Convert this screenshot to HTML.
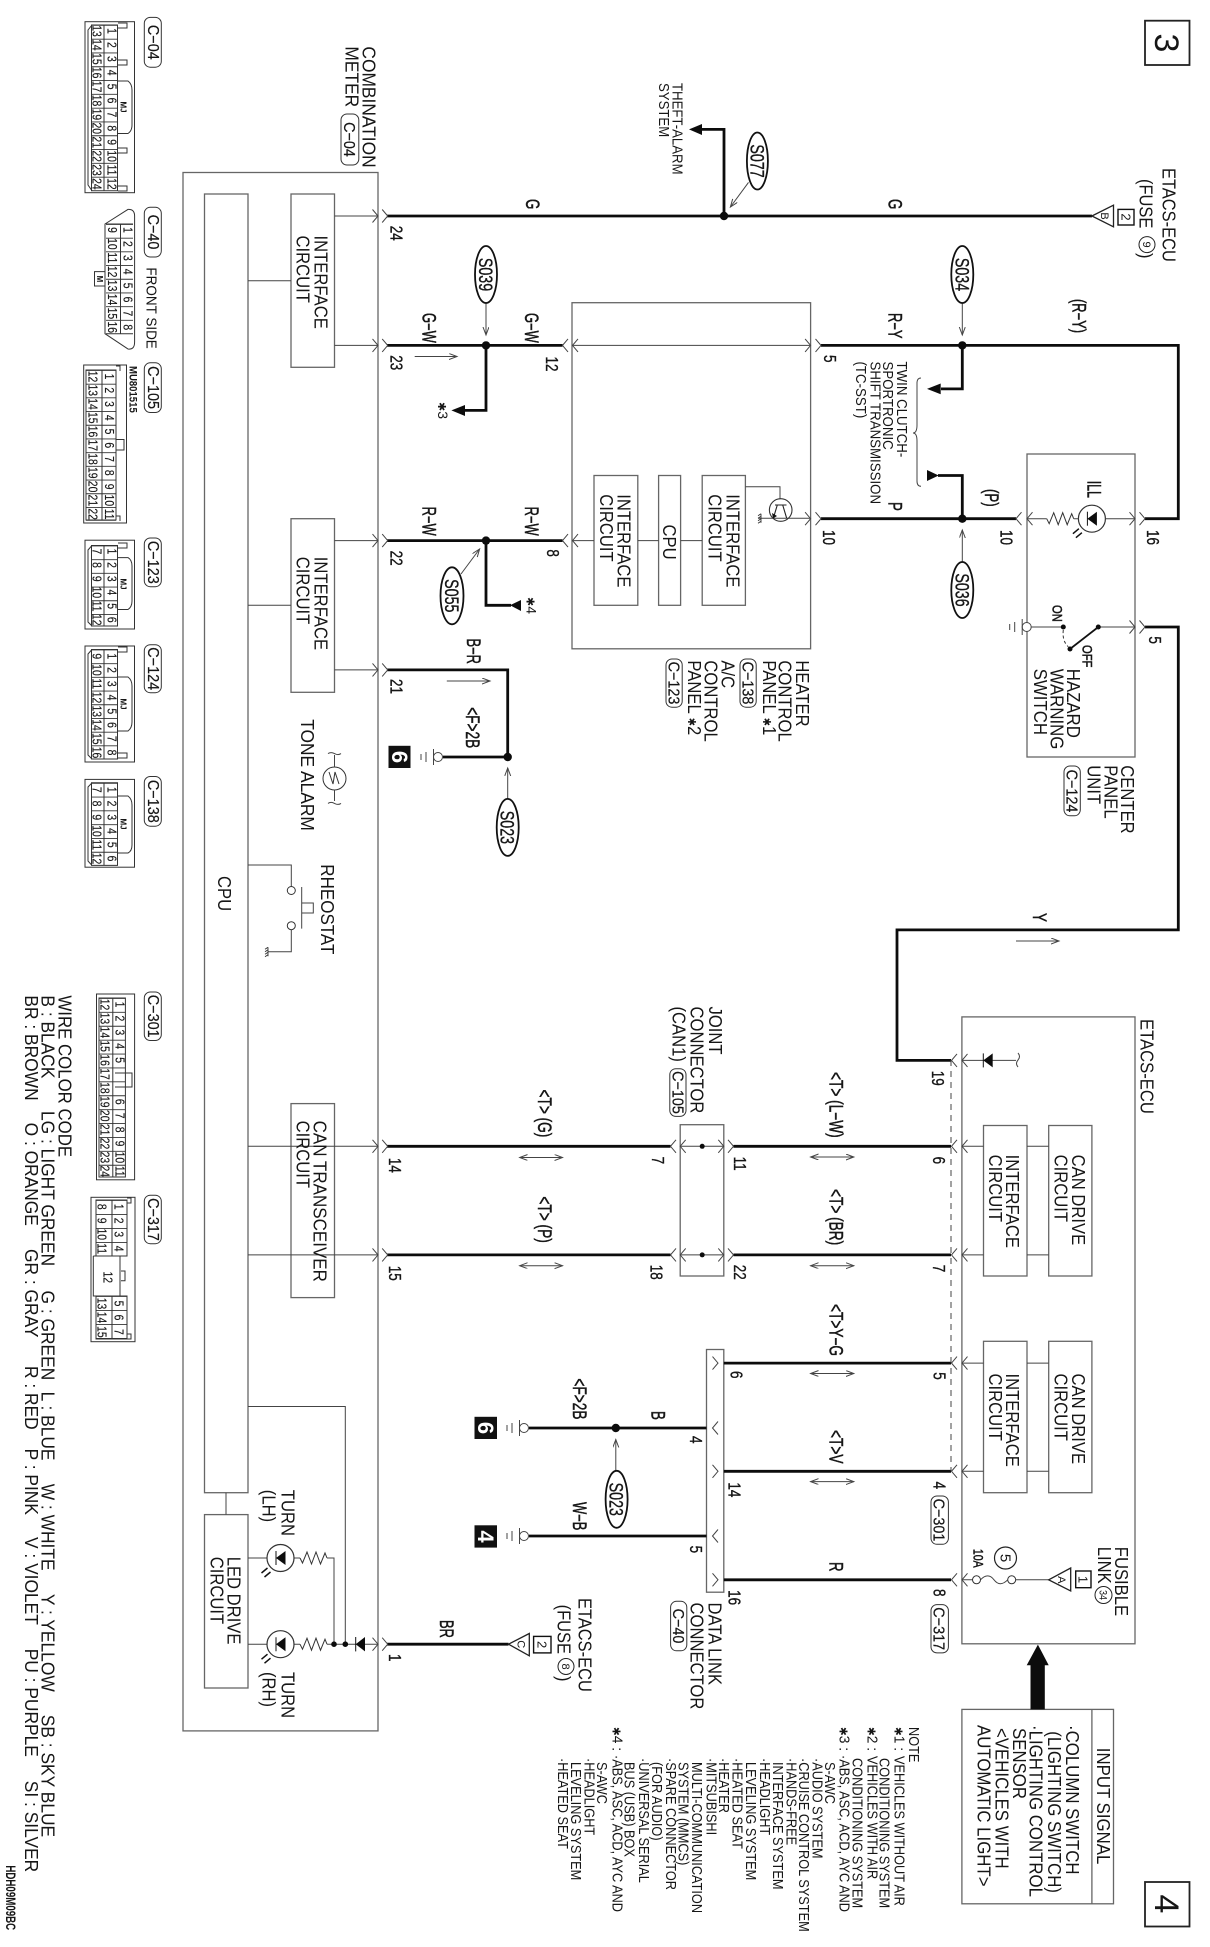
<!DOCTYPE html>
<html><head><meta charset="utf-8"><title>Wiring diagram</title>
<style>
html,body{margin:0;padding:0;background:#fff}
svg{display:block}
text{font-family:"Liberation Sans","DejaVu Sans",sans-serif;fill:#161616}
.L{font-size:18.5px}
.M{font-size:15px}
.N{font-size:14.5px}
.P{font-size:18px;stroke:#161616;stroke-width:.35}
.W{font-size:19px;stroke:#161616;stroke-width:.5}
.S{font-size:19px;stroke:#161616;stroke-width:.35}
.K{font-size:16px;stroke:#161616;stroke-width:.2}
.c{text-anchor:middle}
.n text{font-size:13px;text-anchor:middle;stroke:#161616;stroke-width:.15}
.b{fill:none;stroke:#666;stroke-width:1.3}
.t{fill:none;stroke:#444;stroke-width:1}
.w{fill:none;stroke:#0c0c0c;stroke-width:2.8;stroke-linejoin:miter}
.g{fill:none;stroke:#444;stroke-width:1}
.d{fill:#0c0c0c}
.e{fill:#fff;stroke:#111;stroke-width:1.8}
.p{fill:#fff;stroke:#333;stroke-width:1}
.r{font-size:11px;stroke:none}
</style></head>
<body>
<svg width="1210" height="1947" viewBox="0 0 1210 1947" xmlns="http://www.w3.org/2000/svg">
<defs>
<marker id="a" markerWidth="10" markerHeight="8" refX="8" refY="3" orient="auto-start-reverse" markerUnits="userSpaceOnUse"><path d="M0 0L8 3L0 6" fill="none" stroke="#444" stroke-width="1"/></marker>
<path id="cr" d="M-5.5 -6.5L0 0L-5.5 6.5" fill="none" stroke="#444" stroke-width="1"/>
<path id="cl" d="M5.5 -6.5L0 0L5.5 6.5" fill="none" stroke="#444" stroke-width="1"/>
<g id="led"><circle r="13.5" fill="none" stroke="#333" stroke-width="1.2"/><path d="M-4.5 0L5 -7V7Z" fill="#0c0c0c"/><path d="M-4.5 -7V7" stroke="#111" stroke-width="1"/><path d="M-13 10L-19 15M-10 14L-16 19" stroke="#111" stroke-width="1.5"/></g>
<path id="res" d="M0 0L2.5 5L7 -6L11.5 6L16 -6L20.5 6L25 -5L27 0" fill="none" stroke="#333" stroke-width="1"/>
<g id="gnd"><circle r="4.5" fill="#fff" stroke="#444"/><path d="M-4.5 -8V8M-12 -5V5M-17 -3V3" fill="none" stroke="#444"/></g>
<path id="hat" d="M0 -4.5V4.5M0 -4.5L-3 -2.5M0 -2L-3 0M0 .5L-3 2.5M0 3L-3 5" fill="none" stroke="#333" stroke-width=".9"/>
</defs>

<!-- page tags -->
<rect x="1145" y="20.7" width="44.5" height="44.3" fill="none" stroke="#222" stroke-width="1.8"/>
<text class="c" style="font-size:34px" transform="matrix(0 1 -1 0 1155 43)">3</text>
<rect x="1145" y="1882" width="44.5" height="44.5" fill="none" stroke="#222" stroke-width="1.8"/>
<text class="c" style="font-size:34px" transform="matrix(0 1 -1 0 1155 1904)">4</text>

<!-- boxes -->
<rect class="b" x="183" y="172.5" width="195" height="1558.4"/>
<rect class="b" x="204.5" y="194" width="43.5" height="1298.7"/>
<rect class="b" x="291" y="194" width="43.5" height="173.3"/>
<rect class="b" x="291" y="518.7" width="43.5" height="173.6"/>
<rect class="b" x="291" y="1103.6" width="43.5" height="194"/>
<rect class="b" x="204.5" y="1514.6" width="43.5" height="173.4"/>
<rect class="b" x="572" y="302.7" width="238.6" height="346.1"/>
<rect class="b" x="594" y="475.5" width="43.8" height="129.8"/>
<rect class="b" x="658.6" y="475.5" width="22" height="129.8"/>
<rect class="b" x="702.2" y="475.5" width="43.2" height="129.8"/>
<rect class="b" x="1027" y="454" width="108" height="303"/>
<rect class="b" x="961.9" y="1016.9" width="173.1" height="626.9"/>
<rect class="b" x="1048.7" y="1125.5" width="43.2" height="150.5"/>
<rect class="b" x="983.5" y="1125.5" width="43.5" height="150.5"/>
<rect class="b" x="1048.7" y="1341.3" width="43.2" height="151.4"/>
<rect class="b" x="983.5" y="1341.3" width="43.5" height="151.4"/>
<rect class="b" x="680.2" y="1124.7" width="43.6" height="151.3"/>
<rect class="b" x="706.5" y="1349.5" width="17.3" height="242.7"/>
<rect class="b" x="961.9" y="1709.4" width="151.6" height="194.4"/>
<path class="b" d="M1091.9 1709.4V1903.8"/>

<!-- thin internal lines -->
<path class="t" d="M334.5 216H378M334.5 345.4H378M334.5 540.6H378M334.5 669.9H378M248 280.7H291M248 605.3H291M248 1146.3H378M248 1254.9H378M572 345.4H810.6M572 540.6H594M637.8 540.6H658.6M680.6 540.6H702.2M745.4 486.7H780V499.3M226 1492.7V1514.6M248 1558H267M248 1644.2H267M294 1558H300M327 1558H334V1644.2M294 1644.2H300M327 1644.2H378M345.3 1644.2V1406.5H248"/>
<path class="t" d="M680.2 1146.3H723.8M680.2 1254.9H723.8M962 1146.3H983.5M1027 1146.3H1048.7M962 1254.9H983.5M1027 1254.9H1048.7M962 1363.1H983.5M1027 1363.1H1048.7M962 1471.3H983.5M1027 1471.3H1048.7M962 1060.4H1016"/>
<path d="M1018 1053q3 3.5 0 7t0 7" fill="none" stroke="#444"/>
<path class="t" d="M758 518.3H810.6"/>
<use href="#hat" x="761" y="518.3"/>
<circle cx="780.7" cy="510" r="11.3" fill="none" stroke="#333" stroke-width="1.1"/>
<path d="M775 505H786.5M777.3 505L773.3 518.3M782.7 505L786.7 518.3" fill="none" stroke="#222" stroke-width="1.1"/>
<path d="M773 518.5L772 513L777 516Z" fill="#111"/>

<!-- wires -->
<path class="w" d="M387 216H1092M724 216V129.4H700"/>
<path class="w" d="M387 345.4H562.5M486 345.4V410.4H465"/>
<path class="w" d="M387 540.6H562.5M486 540.6V605.3H511"/>
<path class="w" d="M387 669.9H507.7V757H443"/>
<path class="w" d="M821 345.4H1178.3V518.7H1145M962.3 345.4V388.9H941"/>
<path class="w" d="M821 518.7H1016M962.3 518.7V475.5H938"/>
<path class="w" d="M1145 627H1178.3V929.9H897V1060.4H951"/>
<path class="w" d="M387 1146.3H670.5M733.5 1146.3H951M387 1254.9H670.5M733.5 1254.9H951"/>
<path class="w" d="M723.8 1363.1H951M723.8 1471.3H951M723.8 1579.8H951"/>
<path class="w" d="M706.5 1428H529M706.5 1536H529"/>
<path class="w" d="M387 1644.2H508.5"/>
<path d="M951 1060V1471" fill="none" stroke="#444" stroke-width="1" stroke-dasharray="6 5"/>

<!-- arrowheads -->
<path class="d" d="M689 129.4L702 124V135Z"/>
<path class="d" d="M451.4 410.4L465 405V416Z"/>
<path class="d" d="M510 605.3L521 600V611Z"/>
<path class="d" d="M927 388.9L940.7 383.5V394.3Z"/>
<path class="d" d="M938.7 475.5L927 470V481Z"/>
<path class="d" d="M1037.9 1644.6L1048.7 1665.2H1044.8V1709.4H1030.5V1665.2H1026.7Z"/>

<!-- junction dots -->
<g class="d">
<circle cx="724" cy="216" r="4.2"/><circle cx="486" cy="345.4" r="4.2"/><circle cx="486" cy="540.6" r="4.2"/><circle cx="962.3" cy="345.4" r="4.2"/><circle cx="962.3" cy="518.7" r="4.2"/><circle cx="507.7" cy="757" r="4.2"/><circle cx="615.8" cy="1428" r="4.2"/>
<circle cx="345.3" cy="1644.2" r="2.8"/><circle cx="334" cy="1644.2" r="2.8"/>
<circle cx="702.2" cy="1146.3" r="2.5"/><circle cx="702.2" cy="1254.9" r="2.5"/>
</g>

<!-- chevrons -->
<g>
<use href="#cr" x="378" y="216"/><use href="#cr" x="387.7" y="216"/>
<use href="#cr" x="378" y="345.4"/><use href="#cr" x="387.7" y="345.4"/>
<use href="#cr" x="378" y="540.6"/><use href="#cr" x="387.7" y="540.6"/>
<use href="#cr" x="378" y="669.9"/><use href="#cr" x="387.7" y="669.9"/>
<use href="#cr" x="378" y="1146.3"/><use href="#cr" x="387.7" y="1146.3"/>
<use href="#cr" x="378" y="1254.9"/><use href="#cr" x="387.7" y="1254.9"/>
<use href="#cr" x="378" y="1644.2"/><use href="#cr" x="387.7" y="1644.2"/>
<use href="#cl" x="562.5" y="345.4"/><use href="#cl" x="572.5" y="345.4"/>
<use href="#cl" x="562.5" y="540.6"/><use href="#cl" x="572.5" y="540.6"/>
<use href="#cr" x="810.6" y="345.4"/><use href="#cr" x="821" y="345.4"/>
<use href="#cr" x="810.6" y="518.7"/><use href="#cr" x="821" y="518.7"/>
<use href="#cl" x="1016" y="518.7"/><use href="#cl" x="1027" y="518.7"/>
<use href="#cr" x="1135" y="518.7"/><use href="#cr" x="1145" y="518.7"/>
<use href="#cr" x="1135" y="627"/><use href="#cr" x="1145" y="627"/>
<use href="#cl" x="951.5" y="1060.4"/><use href="#cl" x="962" y="1060.4"/>
<use href="#cl" x="951.5" y="1146.3"/><use href="#cl" x="962" y="1146.3"/>
<use href="#cl" x="951.5" y="1254.9"/><use href="#cl" x="962" y="1254.9"/>
<use href="#cl" x="951.5" y="1363.1"/><use href="#cl" x="962" y="1363.1"/>
<use href="#cl" x="951.5" y="1471.3"/><use href="#cl" x="962" y="1471.3"/>
<use href="#cl" x="951.5" y="1579.8"/><use href="#cl" x="962" y="1579.8"/>
<use href="#cl" x="670.5" y="1146.3"/><use href="#cl" x="680.2" y="1146.3"/>
<use href="#cr" x="723.8" y="1146.3"/><use href="#cr" x="733.5" y="1146.3"/>
<use href="#cl" x="670.5" y="1254.9"/><use href="#cl" x="680.2" y="1254.9"/>
<use href="#cr" x="723.8" y="1254.9"/><use href="#cr" x="733.5" y="1254.9"/>
<use href="#cr" x="718" y="1363.1"/><use href="#cl" x="712.5" y="1428"/><use href="#cr" x="718" y="1471.3"/><use href="#cl" x="712.5" y="1536"/><use href="#cr" x="718" y="1579.8"/>
</g>

<!-- thin arrows -->
<g class="g">
<path d="M748.5 182.4L730.4 207" marker-end="url(#a)"/>
<path d="M486 303.5V335" marker-end="url(#a)"/>
<path d="M962.3 303.5V335" marker-end="url(#a)"/>
<path d="M461 574L479.6 549" marker-end="url(#a)"/>
<path d="M962.3 561.8V530" marker-end="url(#a)"/>
<path d="M507.7 799V768" marker-end="url(#a)"/>
<path d="M615.8 1470.4V1439.5" marker-end="url(#a)"/>
<path d="M414.7 356.5H457" marker-end="url(#a)"/>
<path d="M446.8 681H490" marker-end="url(#a)"/>
<path d="M1016 941H1059" marker-end="url(#a)"/>
<path d="M519.7 1157.5H562.5" marker-start="url(#a)" marker-end="url(#a)"/>
<path d="M519.7 1265.7H562.5" marker-start="url(#a)" marker-end="url(#a)"/>
<path d="M810.6 1157H853.8" marker-start="url(#a)" marker-end="url(#a)"/>
<path d="M810.6 1265.7H853.8" marker-start="url(#a)" marker-end="url(#a)"/>
<path d="M810.6 1373.5H853.8" marker-start="url(#a)" marker-end="url(#a)"/>
<path d="M810.6 1481.6H853.8" marker-start="url(#a)" marker-end="url(#a)"/>
</g>

<!-- brace -->
<path d="M921 378Q917 378 917 383V425Q917 433 913 433Q917 433 917 441V481Q917 486.3 921 486.3" fill="none" stroke="#444"/>

<!-- LEDs, resistors, diodes -->
<use href="#led" x="1091.9" y="518.7"/>
<use href="#res" x="1046.7" y="518.7"/>
<path class="t" d="M1073.7 518.7H1078.4M1105.4 518.7H1135M1027 518.7H1046.7"/>
<use href="#led" x="280.5" y="1558"/>
<use href="#led" x="280.5" y="1644.2"/>
<use href="#res" x="300" y="1558"/>
<use href="#res" x="300" y="1644.2"/>
<path class="d" d="M355.7 1644.2L365 1637V1651.4Z"/><path d="M355.7 1637V1651.4" stroke="#111"/>
<path class="d" d="M983.3 1060.4L992.7 1053.4V1067.4Z"/><path d="M983.3 1053.4V1067.4" stroke="#111"/>

<!-- switch -->
<use href="#gnd" x="1026.7" y="627"/>
<path class="t" d="M1031 627H1063.3M1098.3 627H1135"/>
<circle class="d" cx="1063.3" cy="627" r="2.5"/><circle class="d" cx="1098.3" cy="627" r="2.5"/><circle class="d" cx="1070" cy="649" r="2.5"/>
<path d="M1098.3 627L1070 649" stroke="#111" stroke-width="1.8"/>
<path d="M1063.3 630Q1062 641 1068.3 646.7" fill="none" stroke="#333" stroke-dasharray="3 2.5"/>

<!-- tone alarm -->
<circle cx="334.5" cy="778.5" r="11.5" fill="none" stroke="#333"/>
<path d="M329 772L333 784L335 772L339 784" fill="none" stroke="#333"/>
<path class="t" d="M334.5 755V767M334.5 790V801M328 753.6q3 -2 6.5 0t6.5 0M328 803.4q3 -2 6.5 0t6.5 0"/>

<!-- rheostat -->
<path class="t" d="M248 865H291.3V886.5M291.3 929.7V951.8H268M301.7 887V928.6M301.7 903H313.3V913H301.7"/>
<circle cx="291.3" cy="890.5" r="4" fill="#fff" stroke="#333"/><circle cx="291.3" cy="925.7" r="4" fill="#fff" stroke="#333"/>
<use href="#hat" x="268" y="951.8"/>

<!-- fuse -->
<path class="t" d="M962 1579.8H972.5M980.5 1579.8Q988 1572 994 1579.8T1007.7 1579.8M1015.7 1579.8H1048.7"/>
<circle cx="976.5" cy="1579.8" r="4" fill="#fff" stroke="#333"/><circle cx="1011.7" cy="1579.8" r="4" fill="#fff" stroke="#333"/>
<circle cx="1005.5" cy="1558" r="11" fill="none" stroke="#222" stroke-width="1.2"/>
<text class="c" style="font-size:15px" transform="matrix(0 1 -1 0 1000.5 1558)">5</text>
<circle cx="1103.5" cy="1595" r="8.5" fill="none" stroke="#222"/>
<text class="c" style="font-size:11px" transform="matrix(0 .8 -1 0 1099.7 1595)">34</text>

<!-- triangles & number squares -->
<path d="M1091.9 216L1113.5 205.2V226.8Z" fill="#fff" stroke="#222" stroke-width="1.3"/>
<text class="c" style="font-size:11px" transform="matrix(0 1 -1 0 1101 216)">B</text>
<rect x="1118" y="209.4" width="16" height="15.6" fill="none" stroke="#111" stroke-width="1.4"/>
<text class="c" style="font-size:13px" transform="matrix(0 1 -1 0 1121.5 217)">2</text>
<path d="M508.5 1644.2L529.3 1633.5V1655.8Z" fill="#fff" stroke="#222" stroke-width="1.3"/>
<text class="c" style="font-size:11px" transform="matrix(0 1 -1 0 517.5 1644.2)">C</text>
<rect x="533.6" y="1636.4" width="17.4" height="16.5" fill="none" stroke="#111" stroke-width="1.4"/>
<text class="c" style="font-size:13px" transform="matrix(0 1 -1 0 537.5 1644.6)">2</text>
<path d="M1048.7 1579.8L1070.7 1568V1591Z" fill="#fff" stroke="#222" stroke-width="1.3"/>
<text class="c" style="font-size:11px" transform="matrix(0 1 -1 0 1058 1579.8)">A</text>
<rect x="1075.7" y="1571" width="15.3" height="16.7" fill="none" stroke="#111" stroke-width="1.4"/>
<text class="c" style="font-size:13px" transform="matrix(0 1 -1 0 1078.5 1579.5)">1</text>

<!-- grounds -->
<use href="#gnd" x="438" y="757"/><use href="#gnd" x="524" y="1428"/><use href="#gnd" x="524" y="1536"/>
<rect x="388.5" y="745.8" width="22" height="22.2" fill="#111"/>
<text class="c" style="font-size:22px;font-weight:bold;fill:#fff" transform="matrix(0 1 -1 0 392 757)">6</text>
<rect x="474.5" y="1416.8" width="22.5" height="22.2" fill="#111"/>
<text class="c" style="font-size:22px;font-weight:bold;fill:#fff" transform="matrix(0 1 -1 0 478 1428)">6</text>
<rect x="474.5" y="1525.3" width="22.5" height="22.3" fill="#111"/>
<text class="c" style="font-size:22px;font-weight:bold;fill:#fff" transform="matrix(0 1 -1 0 478 1536.5)">4</text>

<!-- splice ellipses -->
<ellipse class="e" cx="757.4" cy="161" rx="10.5" ry="28.5"/>
<text class="S c" transform="matrix(0 .75 -1 0 750.5 161)">S077</text>
<ellipse class="e" cx="486" cy="274.5" rx="11" ry="28.5"/>
<text class="S c" transform="matrix(0 .75 -1 0 479 274.5)">S039</text>
<ellipse class="e" cx="962.3" cy="274.5" rx="11" ry="28.5"/>
<text class="S c" transform="matrix(0 .75 -1 0 955.3 274.5)">S034</text>
<ellipse class="e" cx="452" cy="595.8" rx="11.5" ry="28.5"/>
<text class="S c" transform="matrix(0 .75 -1 0 445 595.8)">S055</text>
<ellipse class="e" cx="962.3" cy="590" rx="11" ry="28"/>
<text class="S c" transform="matrix(0 .75 -1 0 955.3 590)">S036</text>
<ellipse class="e" cx="507.7" cy="827.4" rx="11" ry="28.5"/>
<text class="S c" transform="matrix(0 .75 -1 0 500.7 827.4)">S023</text>
<ellipse class="e" cx="616.6" cy="1499.3" rx="11" ry="28.5"/>
<text class="S c" transform="matrix(0 .75 -1 0 609.6 1499.3)">S023</text>

<!-- block labels -->
<text class="L" transform="matrix(0 .94 -1 0 362.7 46.4)">COMBINATION</text>
<text class="L" transform="matrix(0 .94 -1 0 345.3 46.4)">METER</text>
<text class="L" transform="matrix(0 .9 -1 0 314.4 235.5)">INTERFACE</text>
<text class="L" transform="matrix(0 .9 -1 0 296.3 235.5)">CIRCUIT</text>
<text class="L" transform="matrix(0 .9 -1 0 314.4 556.8)">INTERFACE</text>
<text class="L" transform="matrix(0 .9 -1 0 296.3 556.8)">CIRCUIT</text>
<text class="L" transform="matrix(0 .92 -1 0 313.3 1120.6)">CAN TRANSCEIVER</text>
<text class="L" transform="matrix(0 .9 -1 0 296.3 1120.6)">CIRCUIT</text>
<text class="L" transform="matrix(0 .9 -1 0 218 876)">CPU</text>
<text class="L" transform="matrix(0 .94 -1 0 301 719.2)">TONE ALARM</text>
<text class="L" transform="matrix(0 .92 -1 0 321 864.3)">RHEOSTAT</text>
<text class="L" transform="matrix(0 .9 -1 0 227.6 1556.7)">LED DRIVE</text>
<text class="L" transform="matrix(0 .9 -1 0 210.3 1556.7)">CIRCUIT</text>
<text class="L" transform="matrix(0 .9 -1 0 281.6 1489.8)">TURN</text>
<text class="L" transform="matrix(0 .9 -1 0 262.3 1489.8)">(LH)</text>
<text class="L" transform="matrix(0 .9 -1 0 281.6 1672)">TURN</text>
<text class="L" transform="matrix(0 .9 -1 0 262.3 1672)">(RH)</text>
<text class="L" transform="matrix(0 .9 -1 0 726.5 494.2)">INTERFACE</text>
<text class="L" transform="matrix(0 .9 -1 0 708.4 494.2)">CIRCUIT</text>
<text class="L" transform="matrix(0 .9 -1 0 662.9 524.5)">CPU</text>
<text class="L" transform="matrix(0 .9 -1 0 617.7 494.2)">INTERFACE</text>
<text class="L" transform="matrix(0 .9 -1 0 600 494.2)">CIRCUIT</text>
<text class="L" transform="matrix(0 .9 -1 0 796 660.4)">HEATER</text>
<text class="L" transform="matrix(0 .9 -1 0 778.6 660.4)">CONTROL</text>
<text class="L" transform="matrix(0 .9 -1 0 763.2 660.4)">PANEL <tspan class="r">✱</tspan>1</text>
<text class="L" transform="matrix(0 .9 -1 0 721.5 660.4)">A/C</text>
<text class="L" transform="matrix(0 .9 -1 0 704.5 660.4)">CONTROL</text>
<text class="L" transform="matrix(0 .9 -1 0 688 660.4)">PANEL <tspan class="r">✱</tspan>2</text>
<text class="L" transform="matrix(0 .9 -1 0 1121.2 765.3)">CENTER</text>
<text class="L" transform="matrix(0 .9 -1 0 1104.6 765.3)">PANEL</text>
<text class="L" transform="matrix(0 .9 -1 0 1087.3 765.3)">UNIT</text>
<text class="L" transform="matrix(0 .91 -1 0 1066.8 668.7)">HAZARD</text>
<text class="L" transform="matrix(0 .91 -1 0 1050.6 668.7)">WARNING</text>
<text class="L" transform="matrix(0 .91 -1 0 1034 668.7)">SWITCH</text>
<text class="L" transform="matrix(0 .9 -1 0 1140.5 1019)">ETACS-ECU</text>
<text class="L" transform="matrix(0 .9 -1 0 1071.8 1154.6)">CAN DRIVE</text>
<text class="L" transform="matrix(0 .9 -1 0 1054.5 1154.6)">CIRCUIT</text>
<text class="L" transform="matrix(0 .9 -1 0 1006.2 1154.6)">INTERFACE</text>
<text class="L" transform="matrix(0 .9 -1 0 988.9 1154.6)">CIRCUIT</text>
<text class="L" transform="matrix(0 .9 -1 0 1071.8 1373.5)">CAN DRIVE</text>
<text class="L" transform="matrix(0 .9 -1 0 1054.5 1373.5)">CIRCUIT</text>
<text class="L" transform="matrix(0 .9 -1 0 1006.2 1373.5)">INTERFACE</text>
<text class="L" transform="matrix(0 .9 -1 0 988.9 1373.5)">CIRCUIT</text>
<text class="L" transform="matrix(0 .9 -1 0 709.2 1006.5)">JOINT</text>
<text class="L" transform="matrix(0 .9 -1 0 690.6 1006.5)">CONNECTOR</text>
<text class="L" transform="matrix(0 .9 -1 0 672.5 1006.5)">(CAN1)</text>
<text class="L" transform="matrix(0 .9 -1 0 708.4 1602.5)">DATA LINK</text>
<text class="L" transform="matrix(0 .9 -1 0 690.6 1602.5)">CONNECTOR</text>
<text class="L" transform="matrix(0 .9 -1 0 1115 1546.8)">FUSIBLE</text>
<text class="L" transform="matrix(0 .9 -1 0 1098 1546.8)">LINK</text>
<text class="L" transform="matrix(0 .89 -1 0 1162.5 168)">ETACS-ECU</text>
<text class="L" transform="matrix(0 .89 -1 0 1139.3 179)">(FUSE</text>
<circle cx="1147" cy="244.6" r="8" fill="none" stroke="#222"/>
<text class="c" style="font-size:11px" transform="matrix(0 1 -1 0 1143 244.6)">9</text>
<text class="L" transform="matrix(0 .89 -1 0 1139.3 253)">)</text>
<text class="L" transform="matrix(0 .89 -1 0 578.7 1598)">ETACS-ECU</text>
<text class="L" transform="matrix(0 .89 -1 0 557.5 1604.6)">(FUSE</text>
<circle cx="566" cy="1666.5" r="8" fill="none" stroke="#222"/>
<text class="c" style="font-size:11px" transform="matrix(0 1 -1 0 562 1666.5)">8</text>
<text class="L" transform="matrix(0 .89 -1 0 557.5 1676)">)</text>
<text class="M" transform="matrix(0 .88 -1 0 672.5 83)">THEFT-ALARM</text>
<text class="M" transform="matrix(0 .88 -1 0 659 83)">SYSTEM</text>
<text class="M" transform="matrix(0 .885 -1 0 897 361.5)">TWIN CLUTCH-</text>
<text class="M" transform="matrix(0 .885 -1 0 882.8 361.5)">SPORTRONIC</text>
<text class="M" transform="matrix(0 .885 -1 0 870.4 361.5)">SHIFT TRANSMISSION</text>
<text class="M" transform="matrix(0 .885 -1 0 855.8 361.5)">(TC-SST)</text>
<text class="M" transform="matrix(0 .9 -1 0 146.6 267.4)">FRONT SIDE</text>
<text class="W" transform="matrix(0 .65 -1 0 1087.3 480.7)">ILL</text>
<text class="W" style="font-size:14px" transform="matrix(0 .8 -1 0 1052.7 605)">ON</text>
<text class="W" style="font-size:14px" transform="matrix(0 .8 -1 0 1082.7 645)">OFF</text>

<!-- wire labels -->
<text class="W" transform="matrix(0 .7 -1 0 526 199)">G</text>
<text class="W" transform="matrix(0 .7 -1 0 888.6 199)">G</text>
<text class="W" transform="matrix(0 .68 -1 0 422.5 313)">G−W</text>
<text class="W" transform="matrix(0 .68 -1 0 525 313)">G−W</text>
<text class="W" transform="matrix(0 .68 -1 0 422.5 506.6)">R−W</text>
<text class="W" transform="matrix(0 .68 -1 0 525 506.6)">R−W</text>
<text class="W" transform="matrix(0 .68 -1 0 467 638.5)">B−R</text>
<text class="W" transform="matrix(0 .72 -1 0 466 707.2)">&lt;F&gt;2B</text>
<text class="W" transform="matrix(0 .68 -1 0 888.6 313)">R−Y</text>
<text class="W" transform="matrix(0 .68 -1 0 1072.6 299)">(R−Y)</text>
<text class="W" transform="matrix(0 .7 -1 0 888.6 502)">P</text>
<text class="W" transform="matrix(0 .7 -1 0 985 489)">(P)</text>
<text class="W" transform="matrix(0 .7 -1 0 1033 913)">Y</text>
<text class="W" transform="matrix(0 .72 -1 0 538 1089.5)">&lt;T&gt; (G)</text>
<text class="W" transform="matrix(0 .72 -1 0 538 1196.4)">&lt;T&gt; (P)</text>
<text class="W" transform="matrix(0 .72 -1 0 829.5 1072)">&lt;T&gt; (L−W)</text>
<text class="W" transform="matrix(0 .72 -1 0 829.5 1189)">&lt;T&gt; (BR)</text>
<text class="W" transform="matrix(0 .72 -1 0 829.5 1304)">&lt;T&gt;Y−G</text>
<text class="W" transform="matrix(0 .72 -1 0 829.5 1430)">&lt;T&gt;V</text>
<text class="W" transform="matrix(0 .7 -1 0 829.5 1562)">R</text>
<text class="W" transform="matrix(0 .7 -1 0 651.3 1411)">B</text>
<text class="W" transform="matrix(0 .72 -1 0 573 1378.4)">&lt;F&gt;2B</text>
<text class="W" transform="matrix(0 .68 -1 0 573 1502)">W−B</text>
<text class="W" transform="matrix(0 .68 -1 0 439.8 1620)">BR</text>
<text class="W" style="font-size:14px" transform="matrix(0 .75 -1 0 973.4 1548.9)">10A</text>

<!-- stars -->
<text style="font-size:14px" transform="matrix(0 1 -1 0 438 402)"><tspan class="r">✱</tspan>3</text>
<text style="font-size:14px" transform="matrix(0 1 -1 0 526.6 597)"><tspan class="r">✱</tspan>4</text>

<!-- pin numbers -->
<g class="P">
<text transform="matrix(0 .75 -1 0 390.4 225.7)">24</text>
<text transform="matrix(0 .75 -1 0 390.4 355.3)">23</text>
<text transform="matrix(0 .75 -1 0 546 356.5)">12</text>
<text transform="matrix(0 .75 -1 0 390.4 550.6)">22</text>
<text transform="matrix(0 .75 -1 0 547 549.4)">8</text>
<text transform="matrix(0 .75 -1 0 390.4 679)">21</text>
<text transform="matrix(0 .75 -1 0 824.1 355)">5</text>
<text transform="matrix(0 .75 -1 0 823 530)">10</text>
<text transform="matrix(0 .75 -1 0 1000.5 530)">10</text>
<text transform="matrix(0 .75 -1 0 1147 530)">16</text>
<text transform="matrix(0 .75 -1 0 1149 636.4)">5</text>
<text transform="matrix(0 .75 -1 0 389 1157.9)">14</text>
<text transform="matrix(0 .75 -1 0 389 1265.7)">15</text>
<text transform="matrix(0 .75 -1 0 389 1654)">1</text>
<text transform="matrix(0 .75 -1 0 652 1156.6)">7</text>
<text transform="matrix(0 .75 -1 0 734.2 1156.6)">11</text>
<text transform="matrix(0 .75 -1 0 933 1156.6)">6</text>
<text transform="matrix(0 .75 -1 0 650.5 1264.8)">18</text>
<text transform="matrix(0 .75 -1 0 734.2 1264.8)">22</text>
<text transform="matrix(0 .75 -1 0 933 1264.8)">7</text>
<text transform="matrix(0 .75 -1 0 932 1070.8)">19</text>
<text transform="matrix(0 .75 -1 0 730.4 1371)">6</text>
<text transform="matrix(0 .75 -1 0 728.5 1482.4)">14</text>
<text transform="matrix(0 .75 -1 0 728.5 1590.1)">16</text>
<text transform="matrix(0 .75 -1 0 933.7 1372.2)">5</text>
<text transform="matrix(0 .75 -1 0 933.7 1481.6)">4</text>
<text transform="matrix(0 .75 -1 0 933.7 1589)">8</text>
<text transform="matrix(0 .75 -1 0 690 1436)">4</text>
<text transform="matrix(0 .75 -1 0 690 1545.6)">5</text>
</g>

<!-- pills -->
<g>
<rect class="p" x="341" y="114" width="17.8" height="51" rx="6"/><text class="K c" transform="matrix(0 .9 -1 0 344 139.5)">C−04</text>
<rect class="p" x="1064" y="766" width="16.3" height="49.8" rx="6"/><text class="K c" transform="matrix(0 .9 -1 0 1066.5 791)">C−124</text>
<rect class="p" x="740" y="659" width="16.2" height="48.2" rx="6"/><text class="K c" transform="matrix(0 .9 -1 0 742.5 683)">C−138</text>
<rect class="p" x="666" y="659" width="16.2" height="48.2" rx="6"/><text class="K c" transform="matrix(0 .9 -1 0 668.5 683)">C−123</text>
<rect class="p" x="669.8" y="1068.7" width="16.2" height="47.7" rx="6"/><text class="K c" transform="matrix(0 .9 -1 0 672.3 1092.5)">C−105</text>
<rect class="p" x="670.6" y="1601.3" width="16.2" height="49.5" rx="6"/><text class="K c" transform="matrix(0 .9 -1 0 673 1626)">C−40</text>
<rect class="p" x="931" y="1496" width="17.4" height="48.3" rx="6"/><text class="K c" transform="matrix(0 .9 -1 0 933.7 1520)">C−301</text>
<rect class="p" x="931" y="1604.6" width="17.4" height="48.3" rx="6"/><text class="K c" transform="matrix(0 .9 -1 0 933.7 1628.7)">C−317</text>
<rect class="p" x="144.3" y="17.4" width="17" height="49.8" rx="6"/><text class="K c" transform="matrix(0 .9 -1 0 148 42.3)">C−04</text>
<rect class="p" x="144.3" y="207.3" width="17" height="49.7" rx="6"/><text class="K c" transform="matrix(0 .9 -1 0 148 232)">C−40</text>
<rect class="p" x="144.3" y="362.8" width="17" height="49.7" rx="6"/><text class="K c" transform="matrix(0 .9 -1 0 148 387.6)">C−105</text>
<rect class="p" x="144.3" y="538" width="17" height="48.7" rx="6"/><text class="K c" transform="matrix(0 .9 -1 0 148 562.3)">C−123</text>
<rect class="p" x="144.3" y="644.7" width="17" height="48" rx="6"/><text class="K c" transform="matrix(0 .9 -1 0 148 668.7)">C−124</text>
<rect class="p" x="144.3" y="776.5" width="17" height="49.7" rx="6"/><text class="K c" transform="matrix(0 .9 -1 0 148 801.3)">C−138</text>
<rect class="p" x="144.3" y="992" width="17" height="48.5" rx="6"/><text class="K c" transform="matrix(0 .9 -1 0 148 1016.2)">C−301</text>
<rect class="p" x="144.3" y="1195.2" width="17" height="48.5" rx="6"/><text class="K c" transform="matrix(0 .9 -1 0 148 1219.5)">C−317</text>
</g>

<!-- connector C-04 -->
<g fill="none" stroke="#333" stroke-width="1">
<rect x="85" y="21.7" width="49.5" height="171"/>
<path d="M92 25L88 30V185L92 190.7M91.5 25H117.5V190.7H91.5ZM104 25V190.7"/>
<path d="M117.5 81H128Q132 84 132 90V125Q132 131 128 133.5H117.5M118 23H127V28H118M118 60H127V65H118M118 148H127V153H118M118 186H127V191H118"/>
</g>
<path d="M110.8 24.9V191" fill="none" stroke="#333" stroke-width="13" stroke-dasharray=".9 12.9"/>
<path d="M97.8 24.9V191" fill="none" stroke="#333" stroke-width="13" stroke-dasharray=".9 12.9"/>
<text style="font-size:8px;font-weight:bold" class="c" transform="matrix(0 1 -1 0 120.5 107)">MJ</text>
<g class="n" transform="matrix(0 .8 -1 0 107.5 31)"><text x="0">1</text><text x="17.4">2</text><text x="34.8">3</text><text x="52.1">4</text><text x="69.5">5</text><text x="86.9">6</text><text x="104.3">7</text><text x="121.6">8</text><text x="139">9</text><text x="156.4">10</text><text x="173.8">11</text><text x="191.1">12</text></g>
<g class="n" transform="matrix(0 .8 -1 0 92.7 31)"><text x="0">13</text><text x="17.4">14</text><text x="34.8">15</text><text x="52.1">16</text><text x="69.5">17</text><text x="86.9">18</text><text x="104.3">19</text><text x="121.6">20</text><text x="139">21</text><text x="156.4">22</text><text x="173.8">23</text><text x="191.1">24</text></g>

<!-- connector C-40 -->
<path d="M105 224L128 209.4Q134.6 209 134.6 216V342Q134.6 350 128 349L105 333.7Z" fill="none" stroke="#333"/>
<path d="M106 224H133M106 333.7H133M120.5 224V333.7" fill="none" stroke="#333"/>
<path d="M127 224V334" fill="none" stroke="#333" stroke-width="12" stroke-dasharray=".9 12.8"/>
<path d="M113 224V334" fill="none" stroke="#333" stroke-width="14" stroke-dasharray=".9 12.8"/>
<path d="M105 271.6H94.5V286H105" fill="none" stroke="#333"/>
<text style="font-size:8px;font-weight:bold" class="c" transform="matrix(0 1 -1 0 97 279)">M</text>
<g class="n" transform="matrix(0 .8 -1 0 123.5 230)"><text x="0">1</text><text x="17.4">2</text><text x="34.8">3</text><text x="52.1">4</text><text x="69.5">5</text><text x="86.9">6</text><text x="104.3">7</text><text x="121.6">8</text></g>
<g class="n" transform="matrix(0 .8 -1 0 108 230)"><text x="0">9</text><text x="17.4">10</text><text x="34.8">11</text><text x="52.1">12</text><text x="69.5">13</text><text x="86.9">14</text><text x="104.3">15</text><text x="121.6">16</text></g>

<!-- connector C-105 -->
<rect x="83.7" y="365" width="42.8" height="158" fill="none" stroke="#333"/>
<path d="M86 370H116V520H86ZM102 370V520M115.7 439.5H124V450H115.7M116 366H120V371M116 516H120V521" fill="none" stroke="#333"/>
<path d="M109 370V521" fill="none" stroke="#333" stroke-width="14" stroke-dasharray=".9 12.8"/>
<path d="M94 370V521" fill="none" stroke="#333" stroke-width="16" stroke-dasharray=".9 12.8"/>
<text style="font-size:11px;font-weight:bold" transform="matrix(0 .87 -1 0 129.5 366)">MU801515</text>
<g class="n" transform="matrix(0 .8 -1 0 105 376.5)"><text x="0">1</text><text x="17.2">2</text><text x="34.4">3</text><text x="51.6">4</text><text x="68.8">5</text><text x="86">6</text><text x="103.2">7</text><text x="120.4">8</text><text x="137.6">9</text><text x="154.8">10</text><text x="172">11</text></g>
<g class="n" transform="matrix(0 .8 -1 0 88.5 376.5)"><text x="0">12</text><text x="17.2">13</text><text x="34.4">14</text><text x="51.6">15</text><text x="68.8">16</text><text x="86">17</text><text x="103.2">18</text><text x="120.4">19</text><text x="137.6">20</text><text x="154.8">21</text><text x="172">22</text></g>

<!-- connector C-123 -->
<rect x="85" y="540.2" width="49.5" height="88.8" fill="none" stroke="#333"/>
<path d="M91.5 545.5H117.5V626H91.5ZM104 545.5V626M92 545.5L88 550V622L92 626M117.5 557.6H128Q132 560 132 566V601Q132 607 128 609.5H117.5M118 543H127V548H118" fill="none" stroke="#333"/>
<path d="M110.8 545.5V626" fill="none" stroke="#333" stroke-width="13" stroke-dasharray=".9 12.8"/>
<path d="M97.8 545.5V626" fill="none" stroke="#333" stroke-width="13" stroke-dasharray=".9 12.8"/>
<text style="font-size:8px;font-weight:bold" class="c" transform="matrix(0 1 -1 0 120.5 584)">MJ</text>
<g class="n" transform="matrix(0 .8 -1 0 107.5 551.4)"><text x="0">1</text><text x="17.1">2</text><text x="34.2">3</text><text x="51.3">4</text><text x="68.4">5</text><text x="85.5">6</text></g>
<g class="n" transform="matrix(0 .8 -1 0 92.7 551.4)"><text x="0">7</text><text x="17.1">8</text><text x="34.2">9</text><text x="51.3">10</text><text x="68.4">11</text><text x="85.5">12</text></g>

<!-- connector C-124 -->
<rect x="85" y="646" width="49.5" height="116" fill="none" stroke="#333"/>
<path d="M91.5 649.5H117.5V759H91.5ZM104 649.5V759M92 649.5L88 654V755L92 759M117.5 677H128Q132 680 132 686V722Q132 728 128 731H117.5M118 753H127V758H118M118 647H127V652H118" fill="none" stroke="#333"/>
<path d="M110.8 649.5V759" fill="none" stroke="#333" stroke-width="13" stroke-dasharray=".9 12.8"/>
<path d="M97.8 649.5V759" fill="none" stroke="#333" stroke-width="13" stroke-dasharray=".9 12.8"/>
<text style="font-size:8px;font-weight:bold" class="c" transform="matrix(0 1 -1 0 120.5 704)">MJ</text>
<g class="n" transform="matrix(0 .8 -1 0 107.5 656.2)"><text x="0">1</text><text x="17.2">2</text><text x="34.4">3</text><text x="51.6">4</text><text x="68.8">5</text><text x="86">6</text><text x="103.2">7</text><text x="120.4">8</text></g>
<g class="n" transform="matrix(0 .8 -1 0 92.7 656.2)"><text x="0">9</text><text x="17.2">10</text><text x="34.4">11</text><text x="51.6">12</text><text x="68.8">13</text><text x="86">14</text><text x="103.2">15</text><text x="120.4">16</text></g>

<!-- connector C-138 -->
<rect x="85" y="779.4" width="49.5" height="87.8" fill="none" stroke="#333"/>
<path d="M91.5 782.8H117.5V865.4H91.5ZM104 782.8V865.4M92 782.8L88 787V861L92 865.4M117.5 796H128Q132 799 132 805V845Q132 851 128 853H117.5" fill="none" stroke="#333"/>
<path d="M110.8 782.8V865.4" fill="none" stroke="#333" stroke-width="13" stroke-dasharray=".9 12.9"/>
<path d="M97.8 782.8V865.4" fill="none" stroke="#333" stroke-width="13" stroke-dasharray=".9 12.9"/>
<text style="font-size:8px;font-weight:bold" class="c" transform="matrix(0 1 -1 0 120.5 824)">MJ</text>
<g class="n" transform="matrix(0 .8 -1 0 107.5 789.7)"><text x="0">1</text><text x="17.2">2</text><text x="34.4">3</text><text x="51.6">4</text><text x="68.8">5</text><text x="86">6</text></g>
<g class="n" transform="matrix(0 .8 -1 0 92.7 789.7)"><text x="0">7</text><text x="17.2">8</text><text x="34.4">9</text><text x="51.6">10</text><text x="68.8">11</text><text x="86">12</text></g>

<!-- connector C-301 -->
<rect x="96.5" y="994" width="38.1" height="185.8" fill="none" stroke="#333"/>
<path d="M99 998H125.4V1177H99ZM112.8 998V1177M115 1073H125.4V1087H115M125.4 1073H132V1087H125.4" fill="none" stroke="#333"/>
<path d="M119 998V1177" fill="none" stroke="#333" stroke-width="12" stroke-dasharray=".9 13"/>
<path d="M106 998V1177" fill="none" stroke="#333" stroke-width="13.5" stroke-dasharray=".9 13"/>
<g class="n" transform="matrix(0 .8 -1 0 115.7 1004.5)"><text x="0">1</text><text x="17.4">2</text><text x="34.8">3</text><text x="52.1">4</text><text x="69.5">5</text><text x="121.6">6</text><text x="139">7</text><text x="156.4">8</text><text x="173.8">9</text><text x="191.1">10</text><text x="208.5">11</text></g>
<g class="n" transform="matrix(0 .8 -1 0 100.3 1004.5)"><text x="0">12</text><text x="17.4">13</text><text x="34.8">14</text><text x="52.1">15</text><text x="69.5">16</text><text x="86.9">17</text><text x="104.3">18</text><text x="121.6">19</text><text x="139">20</text><text x="156.4">21</text><text x="173.8">22</text><text x="191.1">23</text><text x="208.5">24</text></g>

<!-- connector C-317 -->
<rect x="91" y="1197.3" width="44" height="144.4" fill="none" stroke="#333"/>
<path d="M96 1200H127V1256H96ZM112 1200V1256M96 1296H127V1339H96ZM112 1296V1339M93.3 1256H120V1296H93.3V1256M121 1271H125V1280.7H121M127 1198H131V1203H127M127 1334H131V1339H127" fill="none" stroke="#333"/>
<path d="M119.5 1200V1256" fill="none" stroke="#333" stroke-width="15" stroke-dasharray=".9 13.1"/>
<path d="M104 1200V1256" fill="none" stroke="#333" stroke-width="16" stroke-dasharray=".9 13.1"/>
<path d="M119.5 1296V1339" fill="none" stroke="#333" stroke-width="15" stroke-dasharray=".9 13.1"/>
<path d="M104 1296V1339" fill="none" stroke="#333" stroke-width="16" stroke-dasharray=".9 13.1"/>
<g class="n" transform="matrix(0 .8 -1 0 114.3 1206.7)"><text x="0">1</text><text x="17.5">2</text><text x="34.5">3</text><text x="52.5">4</text><text x="121">5</text><text x="138.5">6</text><text x="156.5">7</text></g>
<g class="n" transform="matrix(0 .8 -1 0 97.7 1206.7)"><text x="0">8</text><text x="17.5">9</text><text x="34.5">10</text><text x="52.5">11</text><text x="121">13</text><text x="138.5">14</text><text x="156.5">15</text></g>
<g class="n" transform="matrix(0 .8 -1 0 103.3 1277.3)"><text x="0">12</text></g>

<!-- legend -->
<g class="L">
<text transform="matrix(0 .91 -1 0 58.6 995.4)">WIRE COLOR CODE</text>
<text transform="matrix(0 .94 -1 0 41.7 995.4)">B : BLACK</text>
<text transform="matrix(0 .94 -1 0 41.7 1111)">LG : LIGHT GREEN</text>
<text transform="matrix(0 .94 -1 0 41.7 1290.5)">G : GREEN</text>
<text transform="matrix(0 .94 -1 0 41.7 1391.6)">L : BLUE</text>
<text transform="matrix(0 .94 -1 0 41.7 1483.7)">W : WHITE</text>
<text transform="matrix(0 .94 -1 0 41.7 1593.9)">Y : YELLOW</text>
<text transform="matrix(0 .94 -1 0 41.7 1714.8)">SB : SKY BLUE</text>
<text transform="matrix(0 .94 -1 0 25 995.4)">BR : BROWN</text>
<text transform="matrix(0 .94 -1 0 25 1122.6)">O : ORANGE</text>
<text transform="matrix(0 .94 -1 0 25 1249)">GR : GRAY</text>
<text transform="matrix(0 .94 -1 0 25 1366)">R : RED</text>
<text transform="matrix(0 .94 -1 0 25 1448.6)">P : PINK</text>
<text transform="matrix(0 .94 -1 0 25 1537)">V : VIOLET</text>
<text transform="matrix(0 .94 -1 0 25 1648.7)">PU : PURPLE</text>
<text transform="matrix(0 .94 -1 0 25 1780.8)">SI : SILVER</text>
</g>
<text style="font-size:13.5px;font-weight:bold" transform="matrix(0 .72 -1 0 5.8 1865.4)">HDH09M09BC</text>

<!-- input signal -->
<g class="L">
<text transform="matrix(0 .91 -1 0 1097 1747.8)">INPUT SIGNAL</text>
<text transform="matrix(0 .91 -1 0 1066 1725)">·COLUMN SWITCH</text>
<text transform="matrix(0 .91 -1 0 1048 1731.3)">(LIGHTING SWITCH)</text>
<text transform="matrix(0 .91 -1 0 1029.4 1725)">·LIGHTING CONTROL</text>
<text transform="matrix(0 .91 -1 0 1012.8 1728)">SENSOR</text>
<text transform="matrix(0 .91 -1 0 995.4 1728)">&lt;VEHICLES WITH</text>
<text transform="matrix(0 .91 -1 0 977.3 1725)">AUTOMATIC LIGHT&gt;</text>
</g>

<!-- notes -->
<g class="N">
<text transform="matrix(0 .88 -1 0 909 1727)">NOTE</text>
<text transform="matrix(0 .95 -1 0 894.4 1727)"><tspan class="r">✱</tspan>1 :</text>
<text transform="matrix(0 .88 -1 0 894.4 1756)">VEHICLES WITHOUT AIR</text>
<text transform="matrix(0 .88 -1 0 879.7 1758)">CONDITIONING SYSTEM</text>
<text transform="matrix(0 .95 -1 0 867.3 1727)"><tspan class="r">✱</tspan>2 :</text>
<text transform="matrix(0 .88 -1 0 867.3 1756)">VEHICLES WITH AIR</text>
<text transform="matrix(0 .88 -1 0 852.7 1758)">CONDITIONING SYSTEM</text>
<text transform="matrix(0 .95 -1 0 839.6 1727)"><tspan class="r">✱</tspan>3 :</text>
<text transform="matrix(0 .88 -1 0 839.6 1755)">·ABS, ASC, ACD, AYC AND</text>
<text transform="matrix(0 .88 -1 0 825 1762)">S-AWC</text>
<text transform="matrix(0 .88 -1 0 812.6 1758)">·AUDIO SYSTEM</text>
<text transform="matrix(0 .88 -1 0 799 1758)">·CRUISE CONTROL SYSTEM</text>
<text transform="matrix(0 .88 -1 0 786.3 1758)">·HANDS-FREE</text>
<text transform="matrix(0 .88 -1 0 772.8 1762)">INTERFACE SYSTEM</text>
<text transform="matrix(0 .88 -1 0 760 1758)">·HEADLIGHT</text>
<text transform="matrix(0 .88 -1 0 745.8 1762)">LEVELING SYSTEM</text>
<text transform="matrix(0 .88 -1 0 732.3 1758)">·HEATED SEAT</text>
<text transform="matrix(0 .88 -1 0 718.8 1758)">·HEATER</text>
<text transform="matrix(0 .88 -1 0 706.5 1758)">·MITSUBISHI</text>
<text transform="matrix(0 .88 -1 0 691.8 1762)">MULTI-COMMUNICATION</text>
<text transform="matrix(0 .88 -1 0 678.3 1762)">SYSTEM (MMCS)</text>
<text transform="matrix(0 .88 -1 0 666 1758)">·SPARE CONNECTOR</text>
<text transform="matrix(0 .88 -1 0 652 1762)">(FOR AUDIO)</text>
<text transform="matrix(0 .88 -1 0 639 1758)">·UNIVERSAL SERIAL</text>
<text transform="matrix(0 .88 -1 0 624.3 1762)">BUS (USB) BOX</text>
<text transform="matrix(0 .95 -1 0 612.7 1727)"><tspan class="r">✱</tspan>4 :</text>
<text transform="matrix(0 .88 -1 0 612.7 1755)">·ABS, ASC, ACD, AYC AND</text>
<text transform="matrix(0 .88 -1 0 597 1762)">S-AWC</text>
<text transform="matrix(0 .88 -1 0 584.5 1758)">·HEADLIGHT</text>
<text transform="matrix(0 .88 -1 0 571 1762)">LEVELING SYSTEM</text>
<text transform="matrix(0 .88 -1 0 558.2 1758)">·HEATED SEAT</text>
</g>
</svg>
</body></html>
